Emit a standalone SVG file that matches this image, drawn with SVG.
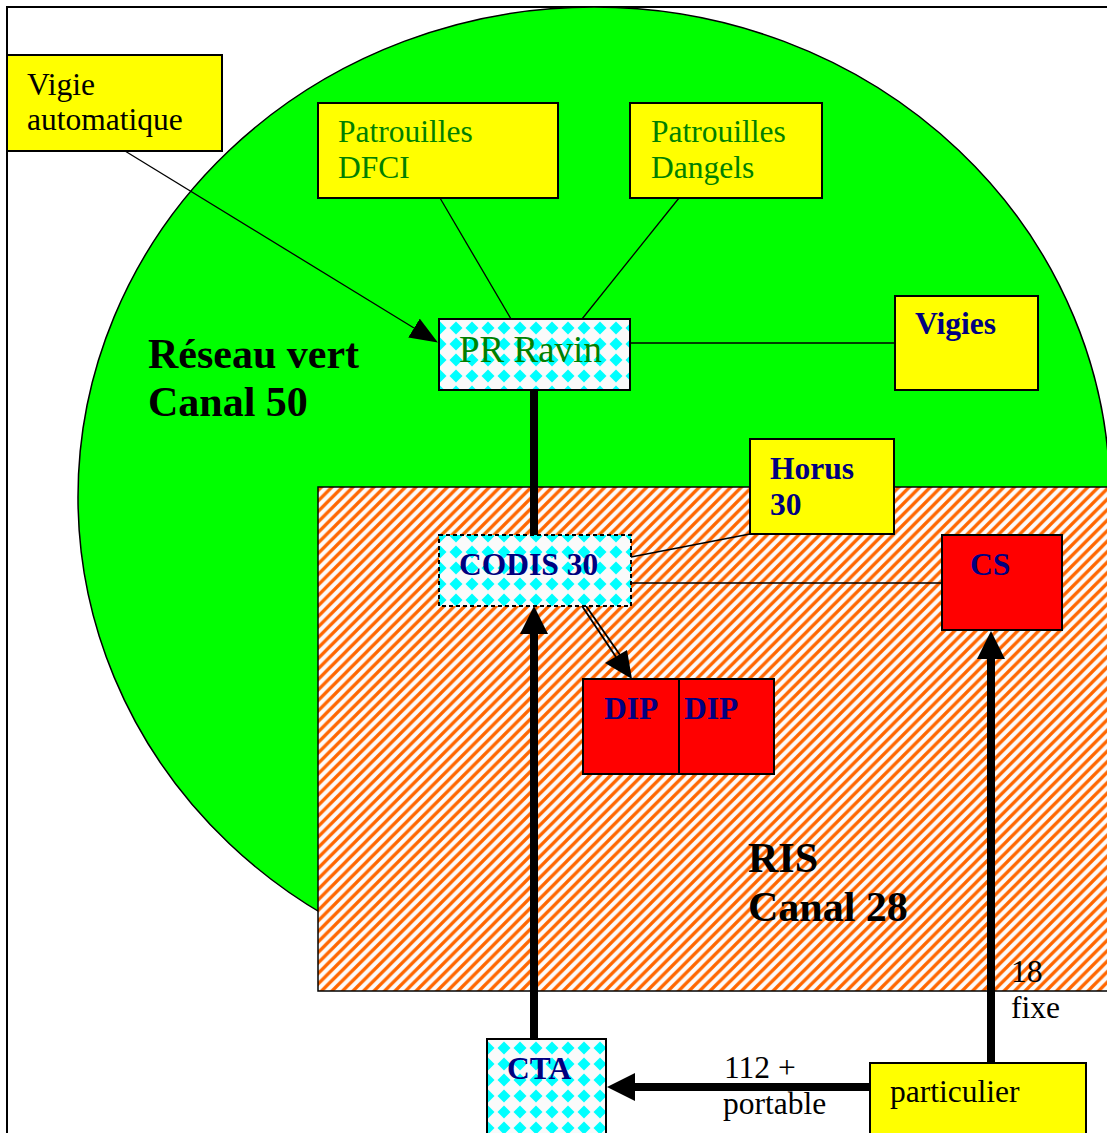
<svg xmlns="http://www.w3.org/2000/svg" width="1107" height="1133" viewBox="0 0 1107 1133">
<style>
text{font-family:"Liberation Serif","Times New Roman",serif;font-size:31.5px}
.b{font-weight:bold}
.navy{fill:#000080}
.grn{fill:#008000}
.blk{fill:#000}
.big{font-size:42px;font-weight:bold;fill:#000}
.yel{fill:#FFFF00;stroke:#000;stroke-width:2}
.red{fill:#FF0000;stroke:#000;stroke-width:2}
.dia{fill:url(#diamonds);stroke:#000;stroke-width:2}
.thin{stroke:#000;stroke-width:1.3;fill:none}
.dbl{stroke:#000;stroke-width:1.8;fill:none}
.thick{stroke:#000;stroke-width:8;fill:none}
</style>
<defs>
<pattern id="diamonds" patternUnits="userSpaceOnUse" width="16" height="16">
<rect width="16" height="16" fill="#FAFAFA"/>
<polygon points="8,1.5 14.5,8 8,14.5 1.5,8" fill="#00FFFF"/>
</pattern>
<pattern id="hatch" patternUnits="userSpaceOnUse" width="10.5" height="10.5">
<rect width="10.5" height="10.5" fill="#FCFCFC"/>
<path d="M-1,11.5 L11.5,-1 M-6,6 L6,-6 M4.5,16.5 L16.5,4.5" stroke="#FF6600" stroke-width="3.3"/>
</pattern>
<marker id="ahThick" markerUnits="userSpaceOnUse" viewBox="0 0 28 28" refX="0" refY="14" markerWidth="28" markerHeight="28" orient="auto">
<path d="M0,0 L28,14 L0,28 z" fill="#000"/>
</marker>
<marker id="ahThin" markerUnits="userSpaceOnUse" viewBox="0 0 28 22" refX="0" refY="11" markerWidth="28" markerHeight="22" orient="auto">
<path d="M0,0 L28,11 L0,22 z" fill="#000"/>
</marker>
</defs>

<g id="background">
<rect x="7" y="7" width="1150" height="1180" fill="#FFFFFF" stroke="#000" stroke-width="2"/>
<ellipse id="reseau-vert" cx="594" cy="497" rx="516" ry="490" fill="#00FF00" stroke="#000" stroke-width="1.5"/>
<rect id="ris" x="318" y="487" width="820" height="504" fill="url(#hatch)" stroke="#000" stroke-width="1.5"/>
<text class="big" x="148" y="368">Réseau vert</text>
<text class="big" x="148" y="416">Canal 50</text>
<text class="big" x="748" y="872">RIS</text>
<text class="big" x="748" y="921">Canal 28</text>
</g>

<g id="connectors">
<line class="thin" x1="125" y1="151" x2="414" y2="328" marker-end="url(#ahThin)"/>
<line class="thin" x1="440" y1="198" x2="511" y2="319"/>
<line class="thin" x1="679" y1="198" x2="582" y2="319"/>
<line class="thin" x1="630" y1="343" x2="895" y2="343"/>
<line class="thick" x1="534" y1="390" x2="534" y2="535"/>
<line class="thin" x1="631" y1="557" x2="750" y2="534"/>
<line class="thin" x1="631" y1="583" x2="942" y2="583"/>
<line class="dbl" x1="582" y1="606" x2="616" y2="657"/>
<line class="dbl" x1="586" y1="606" x2="620" y2="655"/>
<polygon points="632,679 605,663 627,650" fill="#000"/>
<line class="thick" x1="534" y1="1039" x2="534" y2="634" marker-end="url(#ahThick)"/>
<line class="thick" x1="991" y1="1063" x2="991" y2="659" marker-end="url(#ahThick)"/>
<line class="thick" x1="870" y1="1087" x2="635" y2="1087" marker-end="url(#ahThick)"/>
<text class="blk" x="724" y="1078">112 +</text>
<text class="blk" x="723" y="1114">portable</text>
<text class="blk" x="1011" y="982">18</text>
<text class="blk" x="1011" y="1018">fixe</text>
</g>

<g id="vigie-automatique">
<rect class="yel" x="7" y="55" width="215" height="96"/>
<text class="blk" x="27" y="95">Vigie</text>
<text class="blk" x="27" y="130">automatique</text>
</g>
<g id="patrouilles-dfci">
<rect class="yel" x="318" y="103" width="240" height="95"/>
<text class="grn" x="338" y="142">Patrouilles</text>
<text class="grn" x="338" y="178">DFCI</text>
</g>
<g id="patrouilles-dangels">
<rect class="yel" x="630" y="103" width="192" height="95"/>
<text class="grn" x="651" y="142">Patrouilles</text>
<text class="grn" x="651" y="178">Dangels</text>
</g>
<g id="pr-ravin">
<rect class="dia" x="439" y="319" width="191" height="71"/>
<text class="grn" x="459" y="362" style="font-size:37px">PR Ravin</text>
</g>
<g id="vigies">
<rect class="yel" x="895" y="296" width="143" height="94"/>
<text class="b navy" x="915" y="334">Vigies</text>
</g>
<g id="horus-30">
<rect class="yel" x="750" y="439" width="144" height="95"/>
<text class="b navy" x="770" y="479">Horus</text>
<text class="b navy" x="770" y="515">30</text>
</g>
<g id="codis-30">
<rect x="439" y="535" width="192" height="71" fill="url(#diamonds)" stroke="#000" stroke-width="2" stroke-dasharray="4,3"/>
<text class="b navy" x="459" y="575">CODIS 30</text>
</g>
<g id="cs">
<rect class="red" x="942" y="535" width="120" height="95"/>
<text class="b navy" x="970" y="575">CS</text>
</g>
<g id="dip-1">
<rect class="red" x="583" y="679" width="96" height="95"/>
<text class="b navy" x="604" y="719">DIP</text>
</g>
<g id="dip-2">
<rect class="red" x="679" y="679" width="95" height="95"/>
<text class="b navy" x="684" y="719">DIP</text>
</g>
<g id="cta">
<rect class="dia" x="487" y="1039" width="119" height="110"/>
<text class="b navy" x="507" y="1079">CTA</text>
</g>
<g id="particulier">
<rect class="yel" x="870" y="1063" width="216" height="90"/>
<text class="blk" x="890" y="1102">particulier</text>
</g>
</svg>
